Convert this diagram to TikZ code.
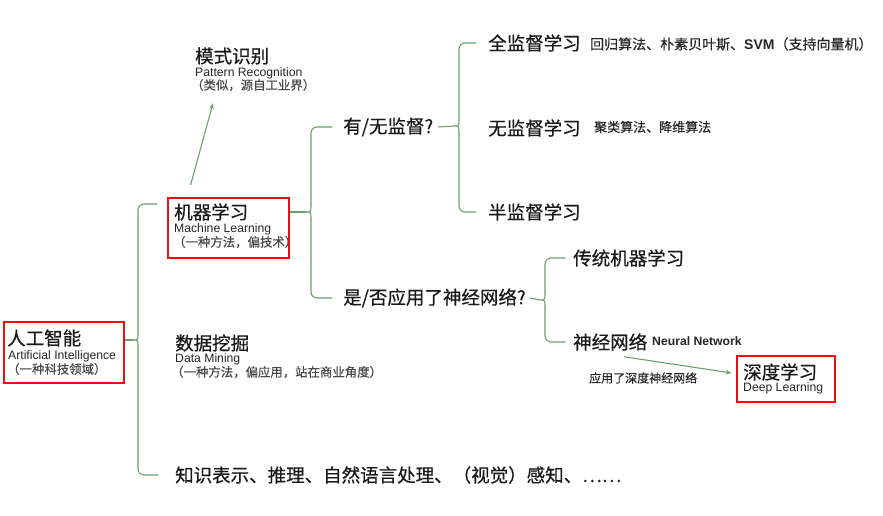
\documentclass[tikz,border=0pt]{standalone}
\usepackage{fontspec}
\setmainfont{Liberation Sans}
\newfontfamily\cjk{Noto Sans CJK SC}[FakeBold=0.3]
\newfontfamily\cjkt{Noto Sans CJK SC}[FakeBold=0.5]
\usetikzlibrary{calc,arrows.meta}
\definecolor{brgreen}{RGB}{108,160,112}
\definecolor{boxred}{RGB}{238,14,14}
\def\bracket(#1)(#2)(#3)(#4){%
  \draw[branch, rounded corners=6] (#3) -| ($(#1)+(0,-8)$);
  \draw[branch, rounded corners=6] (#4) -| ($(#1)+(0,8)$);
  \draw[branch] ($(#1)+(0,-8)$) .. controls (#1) .. ($(#1)+(-5,0)$) .. controls (#1) .. ($(#1)+(0,8)$);
  \draw[branch] (#2) -- ($(#1)+(-5,0)$);}

\begin{document}
\begin{tikzpicture}[x=1pt, y=-1pt,
  title/.style={anchor=west, inner sep=0pt, font=\cjkt\fontsize{18.5}{22}\selectfont, text=black!90},
  entext/.style={anchor=west, inner sep=0pt, font=\fontsize{12.2}{14}\selectfont, text=black!85},
  zhnote/.style={anchor=west, inner sep=0pt, font=\cjk\fontsize{12.4}{14}\selectfont, text=black!72},
  sidenote/.style={anchor=west, inner sep=0pt, font=\cjk\fontsize{13}{15}\selectfont, text=black!85},
  redbox/.style={draw=boxred, line width=2.6pt, inner sep=0pt},
  branch/.style={draw=brgreen, line width=1.1pt, line cap=round},
  arrowline/.style={branch, -{Stealth[length=6pt,width=4.5pt]}}]
			%%%%% START %%%%%
			
			\useasboundingbox (0,0) rectangle (883,516);
			
			\node[title] (ai) at (7,338) {人工智能};
			\node[entext] (aien) at (8,356) {Artificial Intelligence};
			\node[zhnote] (aizh) at (7,369) {（一种科技领域）};
			\node[redbox, minimum width=120, minimum height=61] (aibox) at (64,352.5) {};
			
			\node[title] (pr) at (195,56) {模式识别};
			\node[entext] (pren) at (195,73) {Pattern Recognition};
			\node[zhnote] (przh) at (191,85) {（类似，源自工业界）};
			
			\node[title] (ml) at (174,212) {机器学习};
			\node[entext] (mlen) at (174,229) {Machine Learning};
			\node[zhnote] (mlzh) at (173,242) {（一种方法，偏技术）};
			\node[redbox, minimum width=121, minimum height=60] (mlbox) at (228.5,228) {};
			
			\node[title] (dm) at (175,343) {数据挖掘};
			\node[entext] (dmen) at (175,359) {Data Mining};
			\node[zhnote] (dmzh) at (171,372) {（一种方法，偏应用，站在商业角度）};
			
			\node[title] (know) at (175,475) {知识表示、推理、自然语言处理、（视觉）感知、……};
			
			\node[title] (sup) at (343,127) {有/无监督?};
			\node[title] (nnq) at (343,298) {是/否应用了神经网络?};
			
			\node[title] (full) at (488,43) {全监督学习};
			\node[sidenote, font=\cjk\fontsize{14}{16}\selectfont] (fullnote) at (590,44) {回归算法、朴素贝叶斯、{\rmfamily\bfseries SVM}（支持向量机）};
			\node[title] (unsup) at (488,128) {无监督学习};
			\node[sidenote] (unsupnote) at (594,127) {聚类算法、降维算法};
			\node[title] (semi) at (488,212) {半监督学习};
			
			\node[title] (trad) at (573,258) {传统机器学习};
			\node[title] (nn) at (573,342) {神经网络};
			\node[entext, font=\fontsize{12.2}{14}\selectfont\bfseries] (nnen) at (652,341) {Neural Network};
			
			\node[title] (dl) at (743,372) {深度学习};
			\node[entext] (dlen) at (743,388) {Deep Learning};
			\node[redbox, minimum width=98, minimum height=46] (dlbox) at (786,379) {};
			\node[sidenote, font=\cjk\fontsize{12}{14}\selectfont] (dnnlabel) at (589,378) {应用了深度神经网络};
			
			\coordinate (aicusp) at (138,340);
			\coordinate (mlcusp) at (311,212);
			\coordinate (supcusp) at (459,126);
			\coordinate (nnqcusp) at (545,300);
			
			\bracket(aicusp)(aibox.east |- aicusp)([xshift=-10pt,yshift=24pt]mlbox.west)([xshift=-17pt]know.west)
			\bracket(mlcusp)(mlbox.east |- mlcusp)([xshift=-11pt]sup.west)([xshift=-11pt]nnq.west)
			\bracket(supcusp)([xshift=5pt]sup.east)([xshift=-12pt]full.west)([xshift=-12pt]semi.west)
			\bracket(nnqcusp)([xshift=4pt]nnq.east)([xshift=-8pt]trad.west)([xshift=-8pt]nn.west)
			
			\draw[arrowline] ([xshift=24pt,yshift=12pt]mlbox.north west) -- ([xshift=22pt,yshift=-12pt]przh.south west);
			\draw[arrowline] ([xshift=-23pt,yshift=-6pt]nn.south east) -- ([xshift=-4pt,yshift=6pt]dlbox.west);
			
			%%%%% END %%%%%
\end{tikzpicture}
\end{document}
